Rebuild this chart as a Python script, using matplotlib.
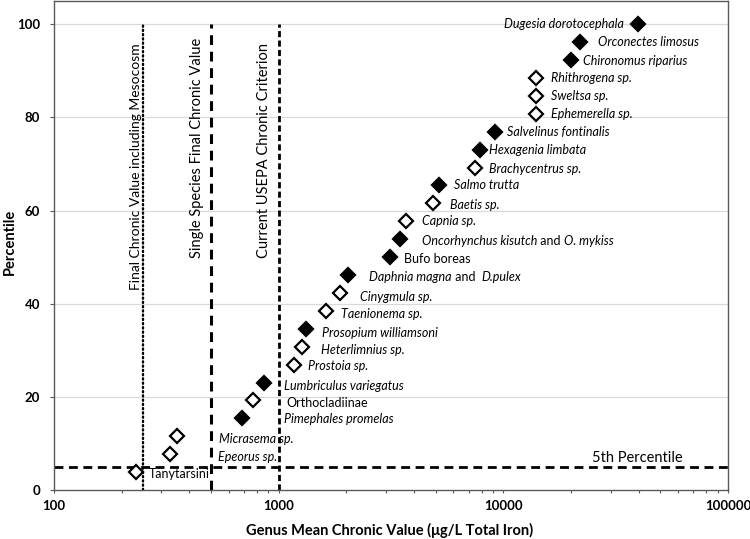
import matplotlib
matplotlib.use("Agg")
import matplotlib.pyplot as plt
import numpy as np

# genus mean chronic values (ug/L total iron), ranked low -> high
species = ["Tanytarsini", "Epeorus sp.", "Micrasema sp.", "Pimephales promelas",
           "Orthocladiinae", "Lumbriculus variegatus", "Prostoia sp.", "Heterlimnius sp.",
           "Prosopium williamsoni", "Taenionema sp.", "Cinygmula sp.", "Daphnia magna",
           "Bufo boreas", "Oncorhynchus kisutch", "Capnia sp.", "Baetis sp.",
           "Salmo trutta", "Brachycentrus sp.", "Hexagenia limbata", "Salvelinus fontinalis",
           "Ephemerella sp.", "Sweltsa sp.", "Rhithrogena sp.", "Chironomus riparius",
           "Orconectes limosus", "Dugesia dorotocephala"]
gmcv = [231, 330, 352, 684, 769, 860, 1175, 1270, 1319, 1625, 1870, 2036,
        3145, 3458, 3683, 4864, 5160, 7470, 7860, 9200, 14000, 14000, 14000,
        20000, 21900, 39900]
filled = [0, 0, 0, 1, 0, 1, 0, 0, 1, 0, 0, 1, 1, 1, 0, 0, 1, 0, 1, 1, 0, 0, 0, 1, 1, 1]
italic = [0, 1, 1, 1, 0, 1, 1, 1, 1, 1, 1, 1, 0, 1, 1, 1, 1, 1, 1, 1, 1, 1, 1, 1, 1, 1]
percentile = [100.0 * (i + 1) / len(gmcv) for i in range(len(gmcv))]

fcv_mesocosm = 250
fcv_single = 500
usepa_criterion = 1000
fifth = 5

# label offsets from marker (pixels): dx, dy (dy positive = down)
px2pt = 0.72
label_dx = [13, 48, 42, 42, 33, 20, 14, 19, 16, 15, 20, 21, 14, 22, 16, 17, 15, 14, 9, 12,
            15, 15, 15, 12, 18, -14]
label_dy = [2, 3, 3, 1, 3, 3, 1, 3, 4, 3, 4, 2, 2, 2, 0, 2, 0, 1, 0, 0, 0, 0, 0, 1, 0, 0]

FONT = ["Lato", "DejaVu Sans"]
plt.rcParams["font.family"] = FONT
LBL = 9.0

fig = plt.figure(figsize=(7.5, 5.39), dpi=100)
ax = fig.add_axes([54 / 750, 1 - 490 / 539, (728 - 54) / 750, 489 / 539])

ax.set_xscale("log")
ax.set_xlim(100, 100000)
ax.set_ylim(0, 105)

for y in [20, 40, 60, 80, 100]:
    ax.axhline(y, color="#d9d9d9", lw=0.9, zorder=0)

# reference lines
ax.plot([fcv_mesocosm, fcv_mesocosm], [0, 100], color="black", lw=1.7,
        linestyle=(0, (0.5, 1.3)), dash_capstyle="round", zorder=2)
ax.plot([fcv_single, fcv_single], [0, 100], color="black", lw=2.2,
        linestyle=(0, (3.2, 2.2)), zorder=2)
ax.plot([usepa_criterion, usepa_criterion], [0, 100], color="black", lw=2.0,
        linestyle=(0, (2.2, 1.2)), zorder=2)
ax.axhline(fifth, color="black", lw=2.0, linestyle=(0, (3.2, 2.0)), zorder=2)

ax.text(fcv_mesocosm * 0.925, 43, "Final Chronic Value including Mesocosm", rotation=90,
        ha="center", va="bottom", fontsize=10)
ax.text(fcv_single * 0.87, 49.8, "Single Species Final Chronic Value", rotation=90,
        ha="center", va="bottom", fontsize=10.5)
ax.text(usepa_criterion * 0.86, 49.8, "Current USEPA Chronic Criterion", rotation=90,
        ha="center", va="bottom", fontsize=10.5)
ax.text(39400, fifth + 0.4, "5th Percentile", ha="center", va="bottom", fontsize=10.5)

# markers
for x, y, f in zip(gmcv, percentile, filled):
    ax.plot(x, y, marker="D", ms=7.0, mec="black", mew=1.6,
            mfc="black" if f else "white", linestyle="none", zorder=4)

# species labels
for i, (name, x, y) in enumerate(zip(species, gmcv, percentile)):
    dx = label_dx[i] * px2pt
    dy = -label_dy[i] * px2pt
    ha = "right" if dx < 0 else "left"
    style = "italic" if italic[i] else "normal"
    t = ax.annotate(name, xy=(x, y), xytext=(dx, dy), textcoords="offset points",
                    ha=ha, va="center", fontsize=LBL, style=style)
    if name == "Oncorhynchus kisutch":
        t2 = ax.annotate(" and ", xy=(1, 0), xycoords=t, ha="left", va="bottom", fontsize=LBL)
        ax.annotate("O. mykiss", xy=(1, 0), xycoords=t2, ha="left", va="bottom",
                    fontsize=LBL, style="italic")
    if name == "Daphnia magna":
        t2 = ax.annotate(" and  ", xy=(1, 0), xycoords=t, ha="left", va="bottom", fontsize=LBL)
        ax.annotate("D.pulex", xy=(1, 0), xycoords=t2, ha="left", va="bottom",
                    fontsize=LBL, style="italic")

# axes styling
for s in ax.spines.values():
    s.set_color("#595959")
    s.set_linewidth(1.0)
ax.set_yticks([0, 20, 40, 60, 80, 100])
ax.set_xticks([100, 1000, 10000, 100000])
ax.set_xticklabels(["100", "1000", "10000", "100000"])
ax.tick_params(axis="both", which="both", direction="out", color="#595959", width=0.8)
ax.tick_params(axis="x", which="major", length=2.5, pad=5, labelsize=9.5)
ax.tick_params(axis="x", which="minor", length=2.5)
ax.tick_params(axis="y", which="major", length=3, pad=7, labelsize=9.5)
for lab in ax.get_xticklabels() + ax.get_yticklabels():
    lab.set_fontweight("bold")

fig.text(390 / 750, 1 - 530 / 539, "Genus Mean Chronic Value (\u03bcg/L Total Iron)",
         fontsize=10.5, fontweight="bold", ha="center", va="center")
fig.text(10 / 750, 1 - 242 / 539, "Percentile", fontsize=10.5, fontweight="bold",
         rotation=90, ha="center", va="center")

fig.savefig("out.png", dpi=100)
